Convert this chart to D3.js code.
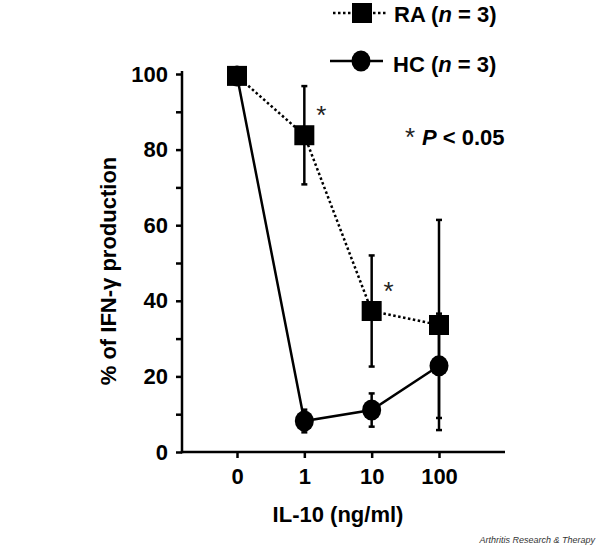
<!DOCTYPE html>
<html>
<head>
<meta charset="utf-8">
<script src="https://cdn.jsdelivr.net/npm/d3@7"></script>
<style>
  html, body { margin: 0; padding: 0; background: #fff; }
  svg { display: block; font-family: "Liberation Sans", Arial, Helvetica, sans-serif; }
</style>
</head>
<body>
<svg id="chart" width="600" height="547"></svg>
<script>
// ---- data ----
const categories = ["0", "1", "10", "100"];
const raValues = [99.5, 83.8, 37.3, 33.6];
const raErrors = [0, 13, 14.7, 27.8];
const hcValues = [99.5, 8.2, 11.1, 22.8];
const hcErrors = [0, 3, 4.4, 13.8];
const significant = ["1", "10"];
const yTicks = [0, 20, 40, 60, 80, 100];
const yMinorTicks = [10, 30, 50, 70, 90];

const svg = d3.select("#chart");
const black = "#000";

const x = d3.scalePoint().domain(categories).range([237, 439]);
const y = d3.scaleLinear().domain([0, 100]).range([452, 74]);
const axisLeftX = 182, axisRightX = 505;

// ---- y axis ----
const yAxis = d3.axisLeft(y).tickValues(yTicks.concat(yMinorTicks)).tickSize(6).tickSizeOuter(0)
  .tickFormat(d => yTicks.includes(d) ? d3.format("d")(d) : "");
const gy = svg.append("g").attr("transform", `translate(${axisLeftX},0)`).call(yAxis);
gy.select(".domain").remove();
gy.selectAll(".tick line").attr("stroke", black).attr("stroke-width", 2.5);
gy.selectAll(".tick text").attr("x", -14).attr("fill", black)
  .style("font-size", "22px").style("font-weight", "bold");
svg.append("line").attr("x1", axisLeftX).attr("x2", axisLeftX)
  .attr("y1", y(100) - 3).attr("y2", y(0) + 1.25)
  .attr("stroke", black).attr("stroke-width", 2.5);

// ---- x axis ----
const xAxis = d3.axisBottom(x).tickSize(6).tickSizeOuter(0);
const gx = svg.append("g").attr("transform", `translate(0,${y(0)})`).call(xAxis);
gx.select(".domain").remove();
gx.selectAll(".tick line").attr("stroke", black).attr("stroke-width", 2.5);
gx.selectAll(".tick text").attr("y", 32).attr("dy", 0).attr("fill", black)
  .style("font-size", "22px").style("font-weight", "bold");
svg.append("line").attr("x1", axisLeftX - 1.25).attr("x2", axisRightX)
  .attr("y1", y(0)).attr("y2", y(0))
  .attr("stroke", black).attr("stroke-width", 2.5);

// axis titles
svg.append("text").attr("x", 338).attr("y", 522).attr("text-anchor", "middle")
  .style("font-size", "22px").style("font-weight", "bold").text("IL-10 (ng/ml)");
svg.append("text").attr("transform", "translate(116,271) rotate(-90)").attr("text-anchor", "middle")
  .style("font-size", "22px").style("font-weight", "bold").text("% of IFN-γ production");

// ---- series ----
const hc = categories.map((c, i) => ({ c, v: hcValues[i], e: hcErrors[i] }));
const ra = categories.map((c, i) => ({ c, v: raValues[i], e: raErrors[i] }));
const line = d3.line().x(d => x(d.c)).y(d => y(d.v));

function errorBars(data) {
  const g = svg.append("g");
  data.filter(d => d.e > 0).forEach(d => {
    g.append("line").attr("x1", x(d.c)).attr("x2", x(d.c))
      .attr("y1", y(d.v + d.e)).attr("y2", y(d.v - d.e))
      .attr("stroke", black).attr("stroke-width", 2.5);
    [d.v + d.e, d.v - d.e].forEach(v => {
      g.append("line").attr("x1", x(d.c) - 3).attr("x2", x(d.c) + 3)
        .attr("y1", y(v)).attr("y2", y(v)).attr("stroke", black).attr("stroke-width", 2.5);
    });
  });
}

errorBars(hc);
errorBars(ra);

svg.append("path").datum(hc).attr("d", line).attr("fill", "none")
  .attr("stroke", black).attr("stroke-width", 2.5);
svg.append("g").selectAll("ellipse").data(hc).join("ellipse")
  .attr("cx", d => x(d.c)).attr("cy", d => y(d.v)).attr("rx", 9.5).attr("ry", 10.5).attr("fill", black);

svg.append("path").datum(ra).attr("d", line).attr("fill", "none")
  .attr("stroke", black).attr("stroke-width", 2.5).attr("stroke-dasharray", "2.5,2.5");
svg.append("g").selectAll("rect").data(ra).join("rect")
  .attr("x", d => x(d.c) - 10).attr("y", d => y(d.v) - 10).attr("width", 20).attr("height", 20).attr("fill", black);

// significance asterisks
svg.append("g").selectAll("text").data(ra.filter(d => significant.includes(d.c))).join("text")
  .attr("x", d => x(d.c) + 17).attr("y", d => y(d.v) - 11).attr("text-anchor", "middle")
  .style("font-size", "26px").style("fill", "#222").text("*");

svg.append("text").attr("x", 410).attr("y", 146).attr("text-anchor", "middle")
  .style("font-size", "26px").style("fill", "#222").text("*");
const pt = svg.append("text").attr("x", 422).attr("y", 145)
  .style("font-size", "22px").style("font-weight", "bold");
pt.append("tspan").style("font-style", "italic").text("P");
pt.append("tspan").text(" < 0.05");

// ---- legend ----
const lg = svg.append("g");
lg.append("line").attr("x1", 333).attr("x2", 386).attr("y1", 13).attr("y2", 13)
  .attr("stroke", black).attr("stroke-width", 2.5).attr("stroke-dasharray", "2.5,2.5");
lg.append("rect").attr("x", 352).attr("y", 3).attr("width", 20).attr("height", 20).attr("fill", black);
const t1 = lg.append("text").attr("x", 394).attr("y", 22).style("font-size", "22px").style("font-weight", "bold");
t1.append("tspan").text("RA (");
t1.append("tspan").style("font-style", "italic").text("n");
t1.append("tspan").text(" = 3)");

lg.append("line").attr("x1", 330).attr("x2", 383).attr("y1", 61).attr("y2", 61)
  .attr("stroke", black).attr("stroke-width", 2.5);
lg.append("ellipse").attr("cx", 361).attr("cy", 61).attr("rx", 9.5).attr("ry", 10.5).attr("fill", black);
const t2 = lg.append("text").attr("x", 393).attr("y", 71.5).style("font-size", "22px").style("font-weight", "bold");
t2.append("tspan").text("HC (");
t2.append("tspan").style("font-style", "italic").text("n");
t2.append("tspan").text(" = 3)");

// credit
svg.append("text").attr("x", 595).attr("y", 543).attr("text-anchor", "end")
  .style("font-size", "9px").style("font-style", "italic").style("fill", "#333")
  .text("Arthritis Research & Therapy");
</script>
</body>
</html>
